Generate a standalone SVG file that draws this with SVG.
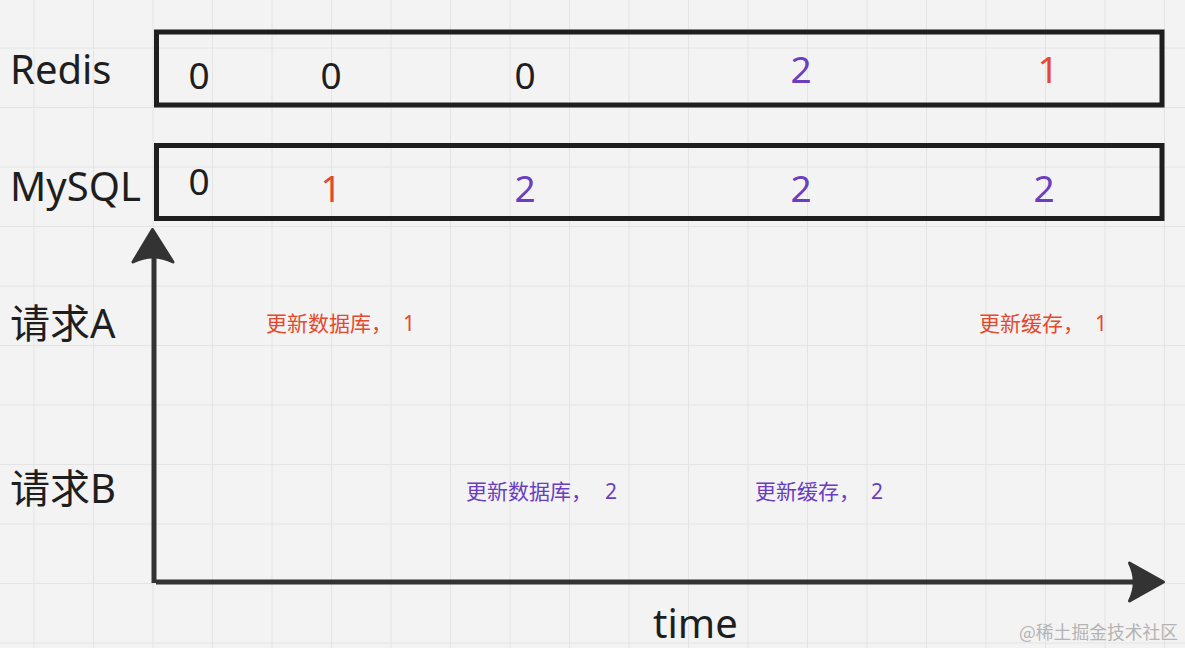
<svg xmlns="http://www.w3.org/2000/svg" width="1185" height="648" viewBox="0 0 1185 648">
<defs>
<style>
.grid{stroke:#e4e4e4;stroke-width:1;fill:none}
.box{fill:none;stroke:#1e1e1e;stroke-width:5}
.axis{stroke:#333333;stroke-width:5;fill:none;stroke-linecap:butt}
.head{fill:#333333;stroke:#333333;stroke-width:3;stroke-linejoin:round}
.lbl{font-family:"Noto Sans","Noto Sans CJK SC",sans-serif;font-size:40px;fill:#1e1e1e}
.num{font-family:"Noto Sans","Noto Sans CJK SC",sans-serif;font-size:37px;text-anchor:middle}
.note{font-family:"Noto Sans","Noto Sans CJK SC",sans-serif;font-size:21px}
.red{fill:#e5492d}
.pur{fill:#6a3dc2}
.blk{fill:#1e1e1e}
</style>
</defs>
<rect width="1185" height="648" fill="#f3f3f3"/>
<path class="grid" d="M34 0V648M93.5 0V648M153 0V648M212.5 0V648M272 0V648M331.5 0V648M391 0V648M450.5 0V648M510 0V648M569.5 0V648M629 0V648M688.5 0V648M748 0V648M807.5 0V648M867 0V648M926.5 0V648M986 0V648M1045.5 0V648M1105 0V648M1164.5 0V648M0 48H1185M0 107.5H1185M0 167H1185M0 226.5H1185M0 286H1185M0 345.5H1185M0 405H1185M0 464.5H1185M0 524H1185M0 583.5H1185M0 643H1185"/>

<g id="redis">
<rect class="box" x="156.5" y="32" width="1005.5" height="73"/>
<text class="num blk" x="199" y="89">0</text>
<text class="num blk" x="331" y="89">0</text>
<text class="num blk" x="525" y="89">0</text>
<text class="num pur" x="801" y="83">2</text>
<text class="num red" x="1048" y="83">1</text>
</g>
<g id="mysql">
<rect class="box" x="156.5" y="145.5" width="1005.5" height="73"/>
<text class="num blk" x="199" y="195">0</text>
<text class="num red" x="331" y="202">1</text>
<text class="num pur" x="525" y="202">2</text>
<text class="num pur" x="801" y="202">2</text>
<text class="num pur" x="1044" y="202">2</text>
</g>

<g id="labels">
<text class="lbl" x="10" y="84">Redis</text>
<text class="lbl" x="10" y="201">MySQL</text>
<text class="lbl" x="10" y="338">请求A</text>
<text class="lbl" x="10" y="503">请求B</text>
<text class="lbl" x="653" y="638">time</text>
</g>

<g id="notes">
<text class="note red" x="266" y="331">更新数据库，<tspan x="403">1</tspan></text>
<text class="note red" x="979" y="331">更新缓存，<tspan x="1095">1</tspan></text>
<text class="note pur" x="466" y="499">更新数据库，<tspan x="605">2</tspan></text>
<text class="note pur" x="755" y="499">更新缓存，<tspan x="871">2</tspan></text>
</g>

<g id="connectors">
<path class="axis" d="M154 583V256"/>
<path class="head" d="M152.5 229.5L133 262Q153 252 173 262Z"/>
<path class="axis" d="M156 582H1137"/>
<path class="head" d="M1163.5 582L1129.5 563Q1139 582 1129.5 601Z"/>
</g>

<text x="1019" y="639" style="font-family:'Noto Sans CJK SC','Noto Sans',sans-serif;font-size:17.8px;fill:#b4b4b4">@稀土掘金技术社区</text>
</svg>
